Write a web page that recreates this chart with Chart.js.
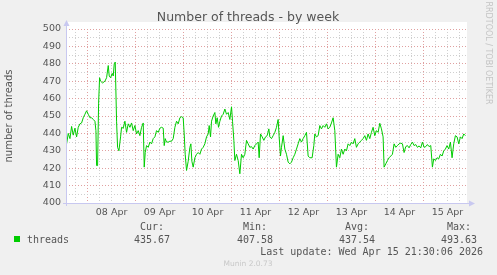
<!DOCTYPE html>
<html>
<head>
<meta charset="utf-8">
<script src="https://cdn.jsdelivr.net/npm/chart.js@4.4.1/dist/chart.umd.min.js"></script>
<style>
html,body{margin:0;padding:0;background:#F0F0F0;}
#wrap{width:497px;height:275px;position:relative;}
</style>
</head>
<body>
<div id="wrap"><canvas id="c" width="497" height="275"></canvas></div>
<script>
// Hours relative to 08 Apr 00:00
const hours = [-10.5,-9.67,-8.83,-8,-7.17,-6.33,-5.5,-4.67,-3.83,-3,-2.17,-1.33,-0.5,0.33,1.17,2,2.83,3.67,4.17,4.5,5,5.5,6,6.5,7.5,8.67,9.5,10.33,10.83,11.5,12.33,12.83,13.33,13.83,14.5,15,15.67,16.5,17,17.83,18.67,19.5,20.33,21.17,22,22.83,23.67,24.5,25.33,26.17,27,27.83,28.33,28.83,29.5,30.33,31.17,32,32.83,33.67,34.5,35.33,36.17,37,37.83,38.33,38.83,39.5,40.33,41.17,42,42.83,43.67,44.5,45.33,46.17,47,47.83,48.33,48.83,49.5,50.33,51.17,51.67,52.17,52.83,53.67,54.5,55.33,56.17,57,57.83,58.67,59.5,60.33,60.83,61.5,62,62.83,63.67,64.17,64.83,65.5,66.17,67,67.83,68.67,69.5,70.33,71.17,72,72.5,73.17,73.67,74.5,75.33,76.17,77,77.83,78.67,79.5,80.33,81.17,82,82.83,83.67,84.5,85.33,85.83,86.5,87.33,88.17,89,89.83,90.67,91.17,92,92.83,93.67,94.5,95.33,95.83,96.5,97,97.83,98.67,99.5,100.33,101.17,102,102.83,103.67,104.5,105.33,106.17,107,107.83,108.67,109.5,110.33,111.17,112.33,113.17,113.67,114.5,115.33,116.17,117,117.83,118.67,119.5,120.33,121.17,122,122.83,123.67,124.5,125.33,126.17,127,127.83,128.67,129.5,130.33,131.17,132,132.83,133.67,134.5,135.33,136.17,137,137.83,138.67,139.5,140.33,141.17,142,142.83,143.67,144.5,145.33,146.17,147,147.83,148.33,149.17,150,150.83,151.67,152.5,153.33,154.17,155,155.83,156.67,157.5,158.33,159.17,160,160.83,161.67,162.5,163.33,164.17,165,165.83,166.67,167.5,168.33,169.17,170,170.83,171.67,172.5,173.17,174,174.83,175.67,176.5,177.33,178.17,179,179.83,180.67,181.5,182.33,183.17,184,184.83,185.67,186.5,187.33,188.17,189];
const threads = [434,440,437,444,439,443,438,443.5,445.5,446,449,451,453,451,449,449,448,447,441.6,421.5,421.5,457,472,470,469,470,472,479,473,472,474.5,473,480,481,447,432,430,438,443.5,443,447,440.6,445.5,443.5,446,441.6,444.5,439.7,441.6,438.7,443.5,446,420.6,429,433,432,435,434,437,438,441.6,440.6,443,443.5,443,433,437,435,435,435.5,435.5,437,443.5,447,445.5,449,449.6,449,439.7,428,418.7,424,432,434,424,420.6,426,428,429,428,431,432,434,438,439.7,444.5,438,447,450,452,445.5,449,443.5,447,450,451,454,451,452,448,455.3,447,436,424.4,428,424.4,416.8,428,426,428,436,434,432,432.4,431,433,434,435,426,439.7,438,436,438,438.7,442.6,438,437,438.7,440.6,443.5,448,438,427,432,438.7,431,428,423.5,422.5,423.5,426,428,431,434,437,435,437,438.7,440.6,427,426,426,433,439.7,438,438.7,444.5,442.6,444.5,443.5,445.5,442.6,443.5,446,449,441.6,420.6,428,426,431,428,431,430,434,433,435,434,437,432,434,435,436,437,438.7,436,439.7,437,440.6,443.5,438.7,441.6,440.6,445.8,442.6,438,420.6,422.5,424.4,426,427,428,434,432,433,434,434.4,434,429,432.4,433,431.7,433.6,435,433,433.6,432,432.8,431.7,435,432,432.4,433.6,432.4,433,420.6,425.4,424.4,426,425.4,428,427,430,431,433,431,435,426,434,438.7,438,434,438,437,439.7,438.7];
const dayLabels = ['08 Apr','09 Apr','10 Apr','11 Apr','12 Apr','13 Apr','14 Apr','15 Apr'];
const xMin = -10.8, xMax = 189.8;
const yMin = 400, yMax = 500;
const seriesName = 'threads';
const statLabels = ['Cur:','Min:','Avg:','Max:'];
const statValues = ['435.67','407.58','437.54','493.63'];
const lastUpdate = 'Last update: Wed Apr 15 21:30:06 2026';
const titleText = 'Number of threads - by week';
const yTitle = 'number of threads';
const footer = 'Munin 2.0.73';
const sideText = 'RRDTOOL / TOBI OETIKER';

const pts = hours.map((h,i)=>({x:h,y:threads[i]}));
const MAJOR = '#E0A0A0', MINOR = '#CFCFCF', AXIS = '#C8C8F0';

const deco = {
  id:'deco',
  beforeDraw(chart){
    const {ctx, chartArea:a} = chart;
    ctx.save();
    ctx.fillStyle = '#F0F0F0';
    ctx.fillRect(0,0,chart.width,chart.height);
    ctx.fillStyle = '#FFFFFF';
    ctx.fillRect(a.left, a.top-7, a.right-a.left, a.bottom-a.top+7);
    ctx.restore();
  },
  afterDraw(chart){
    const {ctx, chartArea:a} = chart;
    ctx.save();
    ctx.strokeStyle = AXIS; ctx.lineWidth = 1;
    ctx.beginPath();
    ctx.moveTo(a.left+0.5, a.bottom+3); ctx.lineTo(a.left+0.5, a.top-5);
    ctx.moveTo(a.left-3, a.bottom+0.5); ctx.lineTo(a.right+4, a.bottom+0.5);
    ctx.stroke();
    ctx.fillStyle = AXIS;
    ctx.beginPath();
    ctx.moveTo(a.left+0.5, a.top-9); ctx.lineTo(a.left-2.5, a.top-3); ctx.lineTo(a.left+3.5, a.top-3); ctx.closePath(); ctx.fill();
    ctx.beginPath();
    ctx.moveTo(a.right+8, a.bottom+0.5); ctx.lineTo(a.right+2, a.bottom-2.5); ctx.lineTo(a.right+2, a.bottom+3.5); ctx.closePath(); ctx.fill();
    ctx.fillStyle = '#555555';
    ctx.font = '12.5px "DejaVu Sans"';
    ctx.textAlign = 'center'; ctx.textBaseline = 'middle';
    ctx.fillText(titleText, 248, 18);
    ctx.save();
    ctx.translate(488, 53);
    ctx.rotate(Math.PI/2);
    ctx.font = '8px "DejaVu Sans"';
    ctx.fillStyle = '#C4C4C4';
    ctx.fillText(sideText, 0, 0);
    ctx.restore();
    ctx.fillStyle = '#00CC00';
    ctx.fillRect(14, 236, 6, 6);
    ctx.font = '10px "DejaVu Sans Mono"';
    ctx.fillStyle = '#555555';
    ctx.textAlign = 'left'; ctx.textBaseline = 'middle';
    ctx.fillText(seriesName, 27, 240);
    const cx = [152, 255, 357, 459];
    ctx.textAlign = 'center';
    statLabels.forEach((s,i)=>ctx.fillText(s, cx[i], 227));
    statValues.forEach((s,i)=>ctx.fillText(s, cx[i], 240));
    ctx.textAlign = 'right';
    ctx.fillText(lastUpdate, 483, 252);
    ctx.textAlign = 'center';
    ctx.font = '7.5px "DejaVu Sans"';
    ctx.fillStyle = '#C8C8C8';
    ctx.fillText(footer, 248, 264);
    ctx.restore();
  }
};

new Chart(document.getElementById('c'), {
  type:'line',
  data:{datasets:[{label:seriesName, data:pts, borderColor:'#00CC00', borderWidth:1, pointRadius:0, tension:0, fill:false}]},
  options:{
    responsive:false, animation:false, devicePixelRatio:1,
    layout:{padding:{left:0, top:29, right:30, bottom:0}},
    plugins:{legend:{display:false}, tooltip:{enabled:false}, title:{display:false}},
    scales:{
      x:{
        type:'linear', min:xMin, max:xMax,
        afterFit(s){ s.height = 72; },
        afterBuildTicks(s){
          const t = [];
          for (let v = Math.ceil(xMin/6)*6; v <= xMax; v += 6) t.push({value:v});
          s.ticks = t;
        },
        border:{display:false, dash:[1,2]},
        grid:{
          drawTicks:false,
          color:(c)=> (c.tick && c.tick.value % 24 === 0) ? MAJOR : MINOR,
          lineWidth:1,
        },
        ticks:{
          autoSkip:false, maxRotation:0, padding:4,
          color:'#555555', font:{family:'DejaVu Sans', size:9.5},
          callback:(v)=>{ const d = (v-12)/24; return (Number.isInteger(d) && d>=0 && d<dayLabels.length) ? dayLabels[d] : ''; }
        }
      },
      y:{
        min:yMin, max:yMax,
        afterFit(s){ s.width = 66; },
        border:{display:false, dash:[1,2]},
        grid:{
          drawTicks:false,
          color:(c)=> (c.tick && c.tick.value % 10 === 0) ? MAJOR : MINOR,
          lineWidth:1,
        },
        ticks:{
          stepSize:5, autoSkip:false, padding:5,
          color:'#555555', font:{family:'DejaVu Sans', size:9.5},
          callback:(v)=> v % 10 === 0 ? String(v) : ''
        },
        title:{display:true, text:yTitle, color:'#555555', font:{family:'DejaVu Sans', size:10}, padding:{top:3,bottom:0}}
      }
    }
  },
  plugins:[deco]
});
</script>
</body>
</html>
